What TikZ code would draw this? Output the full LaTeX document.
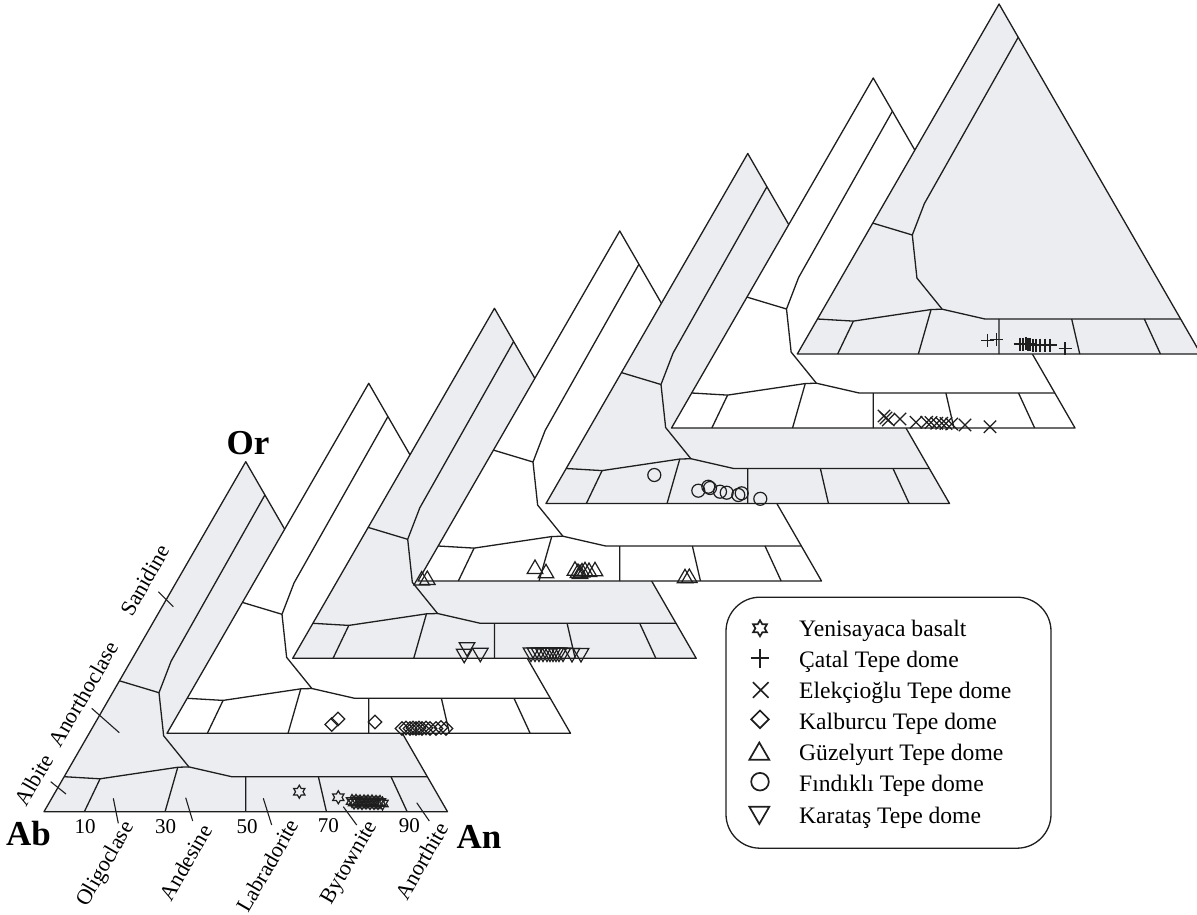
\documentclass[tikz,border=0pt]{standalone}
\usepackage{fontspec}
\setmainfont{Liberation Serif}
\definecolor{fgrey}{RGB}{236,237,240}
\definecolor{ink}{RGB}{30,30,30}
\tikzset{
  edge/.style={draw=ink, line width=1.3pt, line join=round},
  mk/.style={draw=ink, line width=1.2pt},
  lmk/.style={draw=ink, line width=1.7pt},
  tickline/.style={draw=ink, line width=1.1pt},
  corner/.style={font=\fontsize{35}{35}\selectfont\bfseries, inner sep=0pt},
  num/.style={font=\fontsize{21}{21}\selectfont, inner sep=0pt},
  mineral/.style={font=\fontsize{22}{22}\selectfont, inner sep=0pt, rotate=60},
  legtext/.style={font=\fontsize{23.6}{23.6}\selectfont, inner sep=0pt, anchor=base west},
  legbox/.style={draw=ink, line width=1.3pt, rounded corners=34pt, minimum width=325pt, minimum height=251pt, inner sep=0pt},
}
\newcommand{\FeldTri}[3]{%
  \begin{scope}[shift={(#1,#2)}]
  \begin{scope}[x={(403.5pt,0pt)}, y={(201.75pt,350pt)}]
    \coordinate (Ab) at (0,0);
    \coordinate (An) at (1,0);
    \coordinate (Or) at (0,1);
    \coordinate (P1) at (0.095,0.905);
    \coordinate (P2) at (0.100,0.430);
    \coordinate (P3) at (0.115,0.340);
    \coordinate (P4) at (0.188,0.217);
    \coordinate (P5) at (0.295,0.128);
    \coordinate (P6) at (0.415,0.100);
    \coordinate (P7) at (0.900,0.100);
    \coordinate (Q1) at (0,0.100);
    \coordinate (Q2) at (0.092,0.094);
    \coordinate (Q3) at (0.268,0.127);
    \coordinate (S1) at (0,0.374);
    \coordinate (B10) at (0.1,0);
    \coordinate (B30) at (0.3,0);
    \coordinate (B50) at (0.5,0);
    \coordinate (T50) at (0.45,0.1);
    \coordinate (B70) at (0.7,0);
    \coordinate (T70) at (0.63,0.1);
    \coordinate (B90) at (0.9,0);
    \coordinate (T90) at (0.81,0.1);
    \fill[#3] (Ab) -- (An) -- (Or) -- cycle;
    \draw[edge] (P1) -- (P2) -- (P3) -- (P4) -- (P5) -- (P6) -- (P7);
    \draw[edge] (Q1) -- (Q2) -- (Q3) -- (P5);
    \draw[edge] (S1) -- (P3);
    \draw[edge] (B10) -- (Q2);
    \draw[edge] (B30) -- (Q3);
    \draw[edge] (B50) -- (T50);
    \draw[edge] (B70) -- (T70);
    \draw[edge] (B90) -- (T90);
    \draw[edge] (Ab) -- (An) -- (Or) -- cycle;
  \end{scope}
  \end{scope}}
\newcommand{\MStar}[4][mk]{\draw[#1,shift={(#2,#3)}] (90:#4) -- (120:{0.577*#4}) -- (150:#4) -- (180:{0.577*#4}) -- (210:#4) -- (240:{0.577*#4}) -- (270:#4) -- (300:{0.577*#4}) -- (330:#4) -- (0:{0.577*#4}) -- (30:#4) -- (60:{0.577*#4}) -- cycle;}
\newcommand{\MDia}[4][mk]{\draw[#1,shift={(#2,#3)}] (0,-#4) -- (#4,0) -- (0,#4) -- (-#4,0) -- cycle;}
\newcommand{\MUp}[4][mk]{\draw[#1,shift={(#2,#3)}] (270:#4) -- (30:#4) -- (150:#4) -- cycle;}
\newcommand{\MDown}[4][mk]{\draw[#1,shift={(#2,#3)}] (90:#4) -- (210:#4) -- (330:#4) -- cycle;}
\newcommand{\MCirc}[4][mk]{\draw[#1] (#2,#3) circle[radius=#4pt];}
\newcommand{\MX}[4][mk]{\draw[#1,shift={(#2,#3)}] (-#4,-#4) -- (#4,#4) (-#4,#4) -- (#4,-#4);}
\newcommand{\MPlus}[4][mk]{\draw[#1,shift={(#2,#3)}] (-#4,0) -- (#4,0) (0,-#4) -- (0,#4);}
\begin{document}
\begin{tikzpicture}[x=1pt,y=-1pt]
\clip (0,0) rectangle (1197,915);
% stacked ternary diagrams, front to back
\FeldTri{44}{811.7}{fgrey}
\FeldTri{167}{733.3}{white}
\FeldTri{292.7}{658.3}{fgrey}
\FeldTri{418}{581}{white}
\FeldTri{546}{503.5}{fgrey}
\FeldTri{671.5}{428}{white}
\FeldTri{797.3}{354}{fgrey}
% corner labels
\node[corner] (lOr) at (248,443) {Or};
\node[corner] (lAb) at (28.5,834) {Ab};
\node[corner] (lAn) at (479,837) {An};
% numbers
\node[num] (n10) at (85,826.7) {10};
\node[num] (n30) at (165.7,826.7) {30};
\node[num] (n50) at (247,826.7) {50};
\node[num] (n70) at (328.3,825.5) {70};
\node[num] (n90) at (409.3,825.5) {90};
% mineral names
\node[mineral] (mAlb) at (34.2,779.7) {Albite};
\node[mineral] (mAno) at (83.3,694) {Anorthoclase};
\node[mineral] (mSan) at (145,580) {Sanidine};
\node[mineral] (mOli) at (106,864.5) {Oligoclase};
\node[mineral] (mAnd) at (186,862.5) {Andesine};
\node[mineral] (mLab) at (267.5,865.5) {Labradorite};
\node[mineral] (mByt) at (350,863) {Bytownite};
\node[mineral] (mAnt) at (421.7,861) {Anorthite};
% ticks
\coordinate (tAlbA) at (50.7,781.7); \coordinate (tAlbB) at (66,794);
\coordinate (tAnoA) at (91.7,708.3); \coordinate (tAnoB) at (119.3,732.7);
\coordinate (tSanA) at (158.3,591.7); \coordinate (tSanB) at (173.3,606.7);
\coordinate (tOliA) at (113.3,798.3); \coordinate (tOliB) at (118.3,823.3);
\coordinate (tAndA) at (185.7,797.7); \coordinate (tAndB) at (192.7,821);
\coordinate (tLabA) at (263.3,798.3); \coordinate (tLabB) at (271.7,825);
\coordinate (tBytA) at (343.3,806.7); \coordinate (tBytB) at (356.7,825);
\coordinate (tAntA) at (416.7,802.7); \coordinate (tAntB) at (429.3,821);
\draw[tickline] (tAlbA) -- (tAlbB);
\draw[tickline] (tAnoA) -- (tAnoB);
\draw[tickline] (tSanA) -- (tSanB);
\draw[tickline] (tOliA) -- (tOliB);
\draw[tickline] (tAndA) -- (tAndB);
\draw[tickline] (tLabA) -- (tLabB);
\draw[tickline] (tBytA) -- (tBytB);
\draw[tickline] (tAntA) -- (tAntB);
% data: Yenisayaca basalt
\foreach \px/\py in {299.3/791.7, 338.3/797.3, 352/801, 354/802.5, 356/801, 358/802.5, 360/801.5, 362/803, 364/801.5, 366/802.5, 368/801.5, 370/803, 372/801.5, 374/803, 376/802, 378/803, 380/802, 382.5/803.5}
  {\MStar{\px}{\py}{6.5}}
% Kalburcu
\foreach \px/\py in {331.7/724.5, 338/719, 375/722, 402/728.5, 406/728, 410/728.5, 413/728, 416/728.5, 419/728, 422/728.5, 426/728, 430/728.5, 436/728.5, 441/727.5, 446/728.5}
  {\MDia{\px}{\py}{6.7}}
% Karatas
\foreach \px/\py in {467/647.2, 464.2/653.8, 480.3/652.8, 531/652.5, 535/652.5, 539/652.5, 543/652.5, 547/652.5, 550/652.5, 553/652.5, 556/652.5, 559/652.5, 563/652.5, 572/653, 581/653}
  {\MDown{\px}{\py}{9}}
% Guzelyurt
\foreach \px/\py in {421.7/580.5, 427.3/580, 535/569, 546/573.3, 575/570.7, 578/573, 580/574, 582/572.5, 585/571.3, 589/572, 595/571.3, 685/578.3, 689.3/578}
  {\MUp{\px}{\py}{9}}
% Findikli
\foreach \px/\py in {654.3/475, 698.3/490.7, 708.3/486.7, 710/488, 720/491.7, 726.7/492.7, 738.3/495, 741.7/493.3, 760.3/498.8}
  {\MCirc{\px}{\py}{6.5}}
% Elekcioglu
\foreach \px/\py in {884/416, 886/418, 888.3/420, 900/419, 916/422.3, 926.7/422.3, 931/422.5, 936.7/423.3, 941.7/423.3, 946/423.5, 951.7/424, 965/425, 990/426.7}
  {\MX{\px}{\py}{6.2}}
% Catal
\foreach \px/\py in {987.3/340.7, 996.7/339.3, 1020/344, 1023/344, 1026/343.5, 1028/344, 1030/344.5, 1033/345, 1036/345, 1040/345, 1045/345, 1050/345, 1065/348.3}
  {\MPlus{\px}{\py}{6.5}}
% legend
\node[legbox] (legend) at (888.5,722.7) {};
\MStar[lmk]{760}{628.3}{8}
\MPlus[lmk]{760}{658.3}{9.3}
\MX[lmk]{760.7}{690}{7.8}
\MDia[lmk]{760}{719.3}{8.8}
\MUp[lmk]{759.3}{754}{11.5}
\MCirc[lmk]{760}{781.7}{8.8}
\MDown[lmk]{759.3}{812.5}{11.5}
\node[legtext] (l1) at (799,636) {Yenisayaca basalt};
\node[legtext] (l2) at (799,667) {Çatal Tepe dome};
\node[legtext] (l3) at (799,698) {Elekçioğlu Tepe dome};
\node[legtext] (l4) at (799,729) {Kalburcu Tepe dome};
\node[legtext] (l5) at (799,760.7) {Güzelyurt Tepe dome};
\node[legtext] (l6) at (799,791) {Fındıklı Tepe dome};
\node[legtext] (l7) at (799,823.3) {Karataş Tepe dome};
\end{tikzpicture}
\end{document}
